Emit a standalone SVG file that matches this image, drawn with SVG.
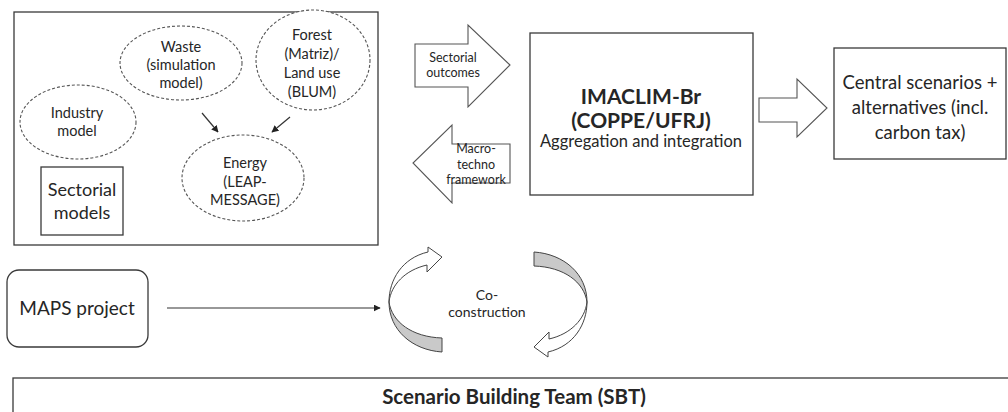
<svg xmlns="http://www.w3.org/2000/svg" width="1008" height="412" viewBox="0 0 1008 412">
<defs>
<style>
text{font-family:Lato,"Liberation Sans",sans-serif;fill:#262626;text-anchor:middle}
.box{fill:#fff;stroke:#3a3a3a;stroke-width:1.3}
.ell{fill:#fff;stroke:#555;stroke-width:1.1;stroke-dasharray:3 2}
.ln{stroke:#333;stroke-width:1.2;fill:none}
.blk{fill:#fff;stroke:#555;stroke-width:1.1}
.t14{font-size:14.5px}
.b{font-weight:bold}
</style>
<marker id="ah" viewBox="0 0 10 10" refX="9" refY="5" markerWidth="7" markerHeight="7" markerUnits="userSpaceOnUse" orient="auto">
<path d="M0,0 L10,5 L0,10 Z" fill="#222"/>
</marker>
<g id="curl">
<path d="M389,302 C389,280 402,258 428,252 V247 L442,257 L427,272 V265 C405,270 391,285 389,302 Z" fill="#fff" stroke="#444" stroke-width="1"/>
<path d="M389,302 C389,330 412,350 442,352 V338 C412,337 392,322 389,302 Z" fill="#c9c9c9" stroke="#444" stroke-width="1"/>
</g>
</defs>
<rect width="1008" height="412" fill="#fff"/>

<g id="sectorial-frame">
<rect class="box" x="14" y="12" width="364" height="233"/>
</g>
<g id="waste">
<ellipse class="ell" cx="181" cy="63" rx="61" ry="37"/>
<text class="t14" x="181" y="52">Waste</text>
<text class="t14" x="181" y="70">(simulation</text>
<text class="t14" x="181" y="88">model)</text>
</g>
<g id="forest">
<ellipse class="ell" cx="313" cy="60" rx="57" ry="50"/>
<text class="t14" x="312" y="40">Forest</text>
<text class="t14" x="312" y="59">(Matriz)/</text>
<text class="t14" x="312" y="78">Land use</text>
<text class="t14" x="312" y="97">(BLUM)</text>
</g>
<g id="industry">
<ellipse class="ell" cx="78" cy="122" rx="58" ry="37"/>
<text class="t14" x="77" y="118">Industry</text>
<text class="t14" x="77" y="136">model</text>
</g>
<g id="energy">
<ellipse class="ell" cx="243" cy="178" rx="61" ry="43"/>
<text class="t14" x="245" y="168">Energy</text>
<text class="t14" x="245" y="187">(LEAP-</text>
<text class="t14" x="245" y="205">MESSAGE)</text>
</g>
<g id="sectorial-models">
<rect class="box" x="41" y="167" width="82" height="68"/>
<text x="82" y="196" font-size="18">Sectorial</text>
<text x="82" y="219" font-size="18">models</text>
</g>

<g id="imaclim">
<rect class="box" x="530" y="33" width="223" height="162"/>
<text class="b" x="641" y="104" font-size="21">IMACLIM-Br</text>
<text class="b" x="641" y="128" font-size="21">(COPPE/UFRJ)</text>
<text x="641" y="147" font-size="16.5">Aggregation and integration</text>
</g>
<g id="central">
<rect class="box" x="834" y="48" width="172" height="111"/>
<text x="920" y="89" font-size="18.5">Central scenarios +</text>
<text x="920" y="114" font-size="18.5">alternatives (incl.</text>
<text x="920" y="139" font-size="18.5">carbon tax)</text>
</g>
<g id="maps">
<rect class="box" x="7" y="270" width="141" height="77" rx="12"/>
<text x="77" y="315" font-size="19">MAPS project</text>
</g>
<g id="sbt">
<rect class="box" x="13" y="378" width="1010" height="60"/>
<text class="b" x="514" y="404" font-size="20.5">Scenario Building Team (SBT)</text>
</g>

<g id="connectors">
<line class="ln" x1="202" y1="113" x2="218" y2="132" marker-end="url(#ah)"/>
<line class="ln" x1="290" y1="117" x2="272" y2="132" marker-end="url(#ah)"/>
<line class="ln" x1="167" y1="308" x2="380" y2="308" marker-end="url(#ah)"/>
<g id="sectorial-outcomes">
<path class="blk" d="M415,44 H468 V25 L510,65 L468,107 V87 H415 Z"/>
<text x="453" y="62" font-size="12.5">Sectorial</text>
<text x="453" y="77" font-size="12.5">outcomes</text>
</g>
<g id="macro-techno">
<path class="blk" d="M510,144 H452 V125 L413,163 L452,203 V183 H510 Z"/>
<text x="476" y="153" font-size="12.5">Macro-</text>
<text x="476" y="169" font-size="12.5">techno</text>
<text x="476" y="184" font-size="12.5">framework</text>
</g>
<path class="blk" stroke="#777" d="M759,98 H797 V79 L827,108 L797,137 V122 H759 Z"/>
<g id="co-construction">
<use href="#curl"/>
<use href="#curl" transform="rotate(180 488 302)"/>
<text x="487" y="300" font-size="14" fill="#444">Co-</text>
<text x="487" y="317" font-size="14" fill="#444">construction</text>
</g>
</g>
</svg>
